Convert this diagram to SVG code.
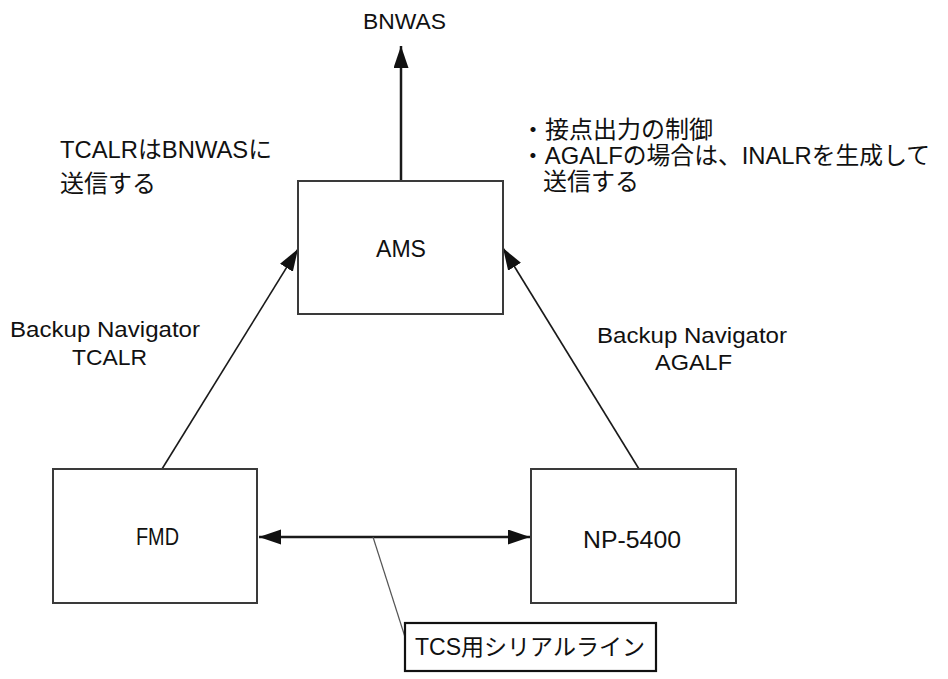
<svg xmlns="http://www.w3.org/2000/svg" width="948" height="679" viewBox="0 0 948 679">
<style>
  text { font-family: "Liberation Sans", "Noto Sans CJK JP", sans-serif; fill: #111; }
  .box { fill: #fff; stroke: #3a3a3a; stroke-width: 2; }
  .lbl { font-size: 22px; }
  .jp { font-size: 24px; }
  .node { font-size: 23px; }
  .c { text-anchor: middle; }
  .conn { fill: none; stroke: #1a1a1a; stroke-linecap: butt; }
  .thick { stroke-width: 2.5; }
  .thin { stroke-width: 1.6; }
  .callout { fill: none; stroke: #555; stroke-width: 1.2; }
</style>
<defs>
  <marker id="ah" markerUnits="userSpaceOnUse" markerWidth="24" markerHeight="16" refX="22" refY="7.5" orient="auto-start-reverse" viewBox="0 0 24 16">
    <path d="M0,0 L22,7.5 L0,15 z" fill="#111"/>
  </marker>
</defs>
<rect width="948" height="679" fill="#fff"/>

<g id="connectors">
  <line class="conn thick" x1="401" y1="181" x2="401" y2="46" marker-end="url(#ah)"/>
  <line class="conn thin" x1="162" y1="469" x2="298" y2="249" marker-end="url(#ah)"/>
  <line class="conn thin" x1="639" y1="469" x2="503" y2="248" marker-end="url(#ah)"/>
  <line class="conn thick" x1="259" y1="537" x2="530" y2="537" marker-start="url(#ah)" marker-end="url(#ah)"/>
  <line class="callout" x1="373" y1="537" x2="405" y2="637"/>
</g>

<g id="node-ams">
  <rect class="box" x="298" y="181" width="205" height="133"/>
  <text class="node" x="376" y="257" textLength="50" lengthAdjust="spacingAndGlyphs">AMS</text>
</g>

<g id="node-fmd">
  <rect class="box" x="53" y="469" width="204" height="134"/>
  <text class="node" x="136" y="545" textLength="43" lengthAdjust="spacingAndGlyphs">FMD</text>
</g>

<g id="node-np5400">
  <rect class="box" x="531" y="469" width="205" height="134"/>
  <text class="node" x="583" y="548" textLength="98" lengthAdjust="spacingAndGlyphs">NP-5400</text>
</g>

<g id="label-bnwas">
  <text class="lbl" x="363" y="29" textLength="83" lengthAdjust="spacingAndGlyphs">BNWAS</text>
</g>

<g id="note-left">
  <text class="jp" x="60" y="158" textLength="212" lengthAdjust="spacingAndGlyphs">TCALRはBNWASに</text>
  <text class="jp" x="60" y="192">送信する</text>
</g>

<g id="note-right">
  <text class="jp" x="521" y="138">・接点出力の制御</text>
  <text class="jp" x="521" y="164" textLength="409" lengthAdjust="spacingAndGlyphs">・AGALFの場合は、INALRを生成して</text>
  <text class="jp" x="543" y="190">送信する</text>
</g>

<g id="label-tcalr">
  <text class="lbl" x="10" y="337" textLength="190" lengthAdjust="spacingAndGlyphs">Backup Navigator</text>
  <text class="lbl" x="72" y="365" textLength="75" lengthAdjust="spacingAndGlyphs">TCALR</text>
</g>

<g id="label-agalf">
  <text class="lbl" x="597" y="343" textLength="190" lengthAdjust="spacingAndGlyphs">Backup Navigator</text>
  <text class="lbl" x="655" y="370" textLength="77" lengthAdjust="spacingAndGlyphs">AGALF</text>
</g>

<g id="node-tcs">
  <rect x="405" y="623" width="251" height="48" fill="#fff" stroke="#111" stroke-width="2.2"/>
  <text class="node" x="415" y="655" textLength="230" lengthAdjust="spacingAndGlyphs">TCS用シリアルライン</text>
</g>
</svg>
